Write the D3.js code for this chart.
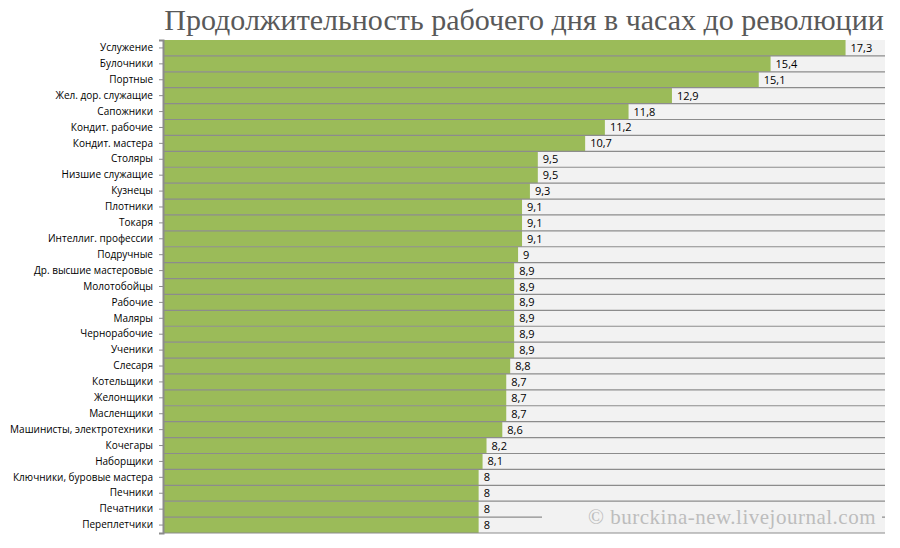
<!DOCTYPE html>
<html><head><meta charset="utf-8">
<script src="https://cdn.jsdelivr.net/npm/d3@7"></script>
<style>body{margin:0;background:#fff}</style>
</head><body>
<script>
const categories = ['Услужение','Булочники','Портные','Жел. дор. служащие','Сапожники','Кондит. рабочие','Кондит. мастера','Столяры','Низшие служащие','Кузнецы','Плотники','Токаря','Интеллиг. профессии','Подручные','Др. высшие мастеровые','Молотобойцы','Рабочие','Маляры','Чернорабочие','Ученики','Слесаря','Котельщики','Желонщики','Масленщики','Машинисты, электротехники','Кочегары','Наборщики','Ключники, буровые мастера','Печники','Печатники','Переплетчики'];
const hours = [17.3,15.4,15.1,12.9,11.8,11.2,10.7,9.5,9.5,9.3,9.1,9.1,9.1,9,8.9,8.9,8.9,8.9,8.9,8.9,8.8,8.7,8.7,8.7,8.6,8.2,8.1,8,8,8,8];

const MARGIN = {top: 40, left: 163, right: 15, bottom: 15};
const W = 900, H = 548;
const svg = d3.select('body').append('svg').attr('width', W).attr('height', H);

svg.append('text').attr('x', 524).attr('y', 30).attr('text-anchor', 'middle')
  .style('font-family', 'Liberation Serif, serif').style('font-size', '30px').style('fill', '#595959')
  .text('Продолжительность рабочего дня в часах до революции');

const x = d3.scaleLinear().domain([0, 18.3]).range([MARGIN.left, W - MARGIN.right]);
const y = d3.scaleBand().domain(categories).range([MARGIN.top, H - MARGIN.bottom]);

svg.append('rect').attr('x', x(0)).attr('y', MARGIN.top).attr('width', x(18.3) - x(0))
  .attr('height', H - MARGIN.bottom - MARGIN.top).attr('fill', '#f2f2f2');

svg.selectAll('.bar').data(hours).join('rect')
  .attr('x', x(0)).attr('y', (d, i) => y(categories[i]))
  .attr('width', d => x(d) - x(0)).attr('height', y.bandwidth()).attr('fill', '#9bbb59');

// grid lines between rows
svg.selectAll('.grid').data(categories).join('line')
  .attr('x1', x(0)).attr('x2', x(18.3))
  .attr('y1', d => y(d) + y.bandwidth()).attr('y2', d => y(d) + y.bandwidth())
  .attr('stroke', '#8c8c8c').attr('stroke-width', 1.2);

svg.selectAll('.lbl').data(hours).join('text')
  .attr('x', d => x(d) + 5).attr('y', (d, i) => y(categories[i]) + y.bandwidth() / 2 + 4)
  .style('font-family', 'Open Sans, sans-serif').style('font-size', '11px').style('fill', '#000')
  .text(d => String(d).replace('.', ','));

const ax = svg.append('g').attr('transform', `translate(${x(0)},0)`)
  .call(d3.axisLeft(y).tickSize(4).tickPadding(6));
ax.select('.domain').attr('stroke', '#8c8c8c').attr('stroke-width', 2);
ax.selectAll('.tick line').attr('stroke', '#8c8c8c');
ax.selectAll('text').style('font-family', 'Open Sans, sans-serif').style('font-size', '10px').style('fill', '#000');

svg.append('rect').attr('x', 542).attr('y', 506).attr('width', 340).attr('height', 26).attr('fill', '#f2f2f2');
svg.append('text').attr('x', 876).attr('y', 524).attr('text-anchor', 'end')
  .style('font-family', 'Liberation Serif, serif').style('font-size', '21px').style('fill', '#bdbdbd')
  .style('letter-spacing', '0.5px')
  .text('© burckina-new.livejournal.com');
</script>
</body></html>
